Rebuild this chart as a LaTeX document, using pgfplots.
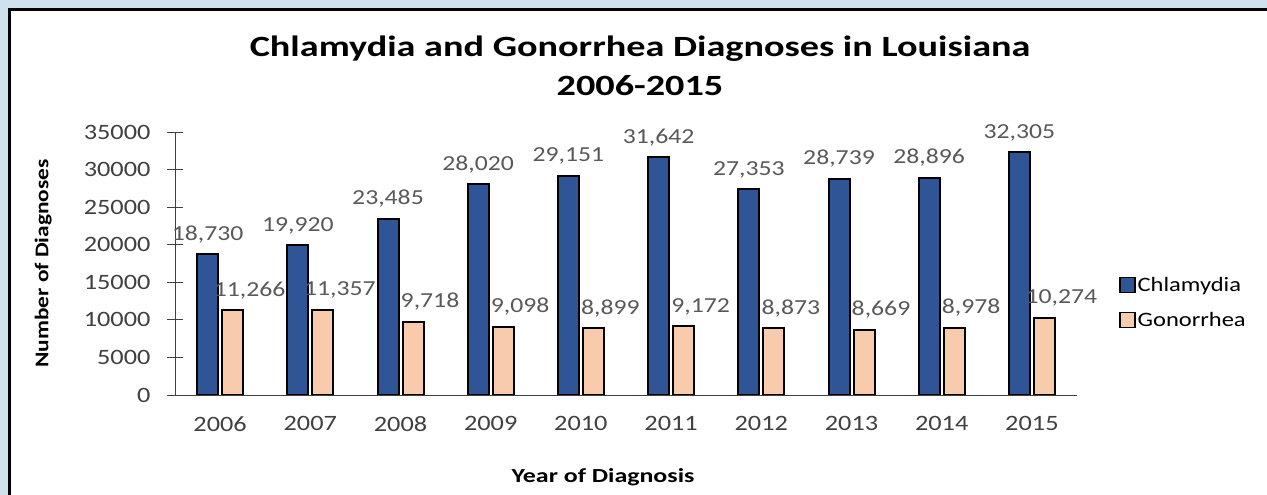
\documentclass[border=0pt]{standalone}
\usepackage{pgfplots}
\pgfplotsset{compat=1.18}
\usepackage{fontspec}
\setmainfont{Carlito}[FakeStretch=1.2]
\newfontfamily\widefont{Carlito}[FakeStretch=1.3]
\definecolor{bgblue}{RGB}{207,225,237}
\definecolor{chl}{RGB}{47,85,151}
\definecolor{gon}{RGB}{248,203,173}
\definecolor{lblgray}{RGB}{89,89,89}
\definecolor{tickgray}{RGB}{64,64,64}
\pgfkeys{/pgf/number format/assume math mode=true}
\begin{document}
\begin{tikzpicture}
\useasboundingbox (0,0) rectangle (1267bp,495bp);
\fill[bgblue] (0,0) rectangle (1267bp,495bp);
\draw[line width=3bp, fill=white] (9.5bp,-20bp) rectangle (1290bp,485.5bp);
\begin{axis}[
  at={(175bp,100bp)}, anchor=south west,
  scale only axis, width=902bp, height=263bp,
  xmin=-0.5, xmax=9.5, ymin=0, ymax=35000,
  ybar=4bp, bar width=21bp,
  axis lines=left,
  axis line style={-, draw=black!75, line width=0.8bp},
  xtick={0,...,9},
  xticklabels={2006,2007,2008,2009,2010,2011,2012,2013,2014,2015},
  x tick style={draw=none},
  extra x ticks={-0.5,0.5,...,9.5},
  extra x tick labels={},
  extra x tick style={major tick length=10bp, tick align=outside, tick style={draw=black!75, line width=0.8bp}},
  ytick={0,5000,...,35000},
  y tick style={draw=black!75, line width=0.8bp},
  major tick length=16bp,
  tick align=center,
  scaled y ticks=false,
  yticklabel style={/pgf/number format/1000 sep={}, font=\fontsize{22}{25}\selectfont, text=tickgray, xshift=-13bp},
  xticklabel style={font=\fontsize{22}{25}\selectfont, text=tickgray, yshift=-10bp},
  title={Chlamydia and Gonorrhea Diagnoses in Louisiana\\2006-2015},
  title style={at={(axis description cs:0.5155,1.228)}, anchor=center, align=center, font=\fontsize{29.5}{39}\widefont\bfseries},
  xlabel={Year of Diagnosis},
  xlabel style={at={(axis description cs:0.4745,-0.312)}, anchor=center, font=\fontsize{20}{23}\widefont\bfseries},
  ylabel={Number of Diagnoses},
  ylabel style={at={(axis description cs:-0.146,0.5)}, anchor=center, rotate=0, font=\fontsize{19.5}{22}\selectfont\bfseries},
  nodes near coords,
  nodes near coords style={font=\fontsize{21.5}{24}\selectfont, text=lblgray, /pgf/number format/1000 sep={,}, yshift=7bp},
  legend style={at={(axis description cs:1.0466,0.352)}, anchor=west, draw=none, fill=none, inner sep=0pt,
    font=\fontsize{20.5}{23}\selectfont, row sep=15bp, text=black},
  legend cell align=left,
  legend image code/.code={\draw[#1, line width=1.4bp] (0bp,-7.5bp) rectangle (15bp,7.5bp);},
]
\addplot[fill=chl, draw=black, line width=2bp] coordinates {
(0,18730) (1,19920) (2,23485) (3,28020) (4,29151) (5,31642) (6,27353) (7,28739) (8,28896) (9,32305)};
\addplot[fill=gon, draw=black, line width=2bp, nodes near coords style={xshift=17bp}] coordinates {
(0,11266) (1,11357) (2,9718) (3,9098) (4,8899) (5,9172) (6,8873) (7,8669) (8,8978) (9,10274)};
\legend{Chlamydia,Gonorrhea}
\end{axis}
\end{tikzpicture}
\end{document}
